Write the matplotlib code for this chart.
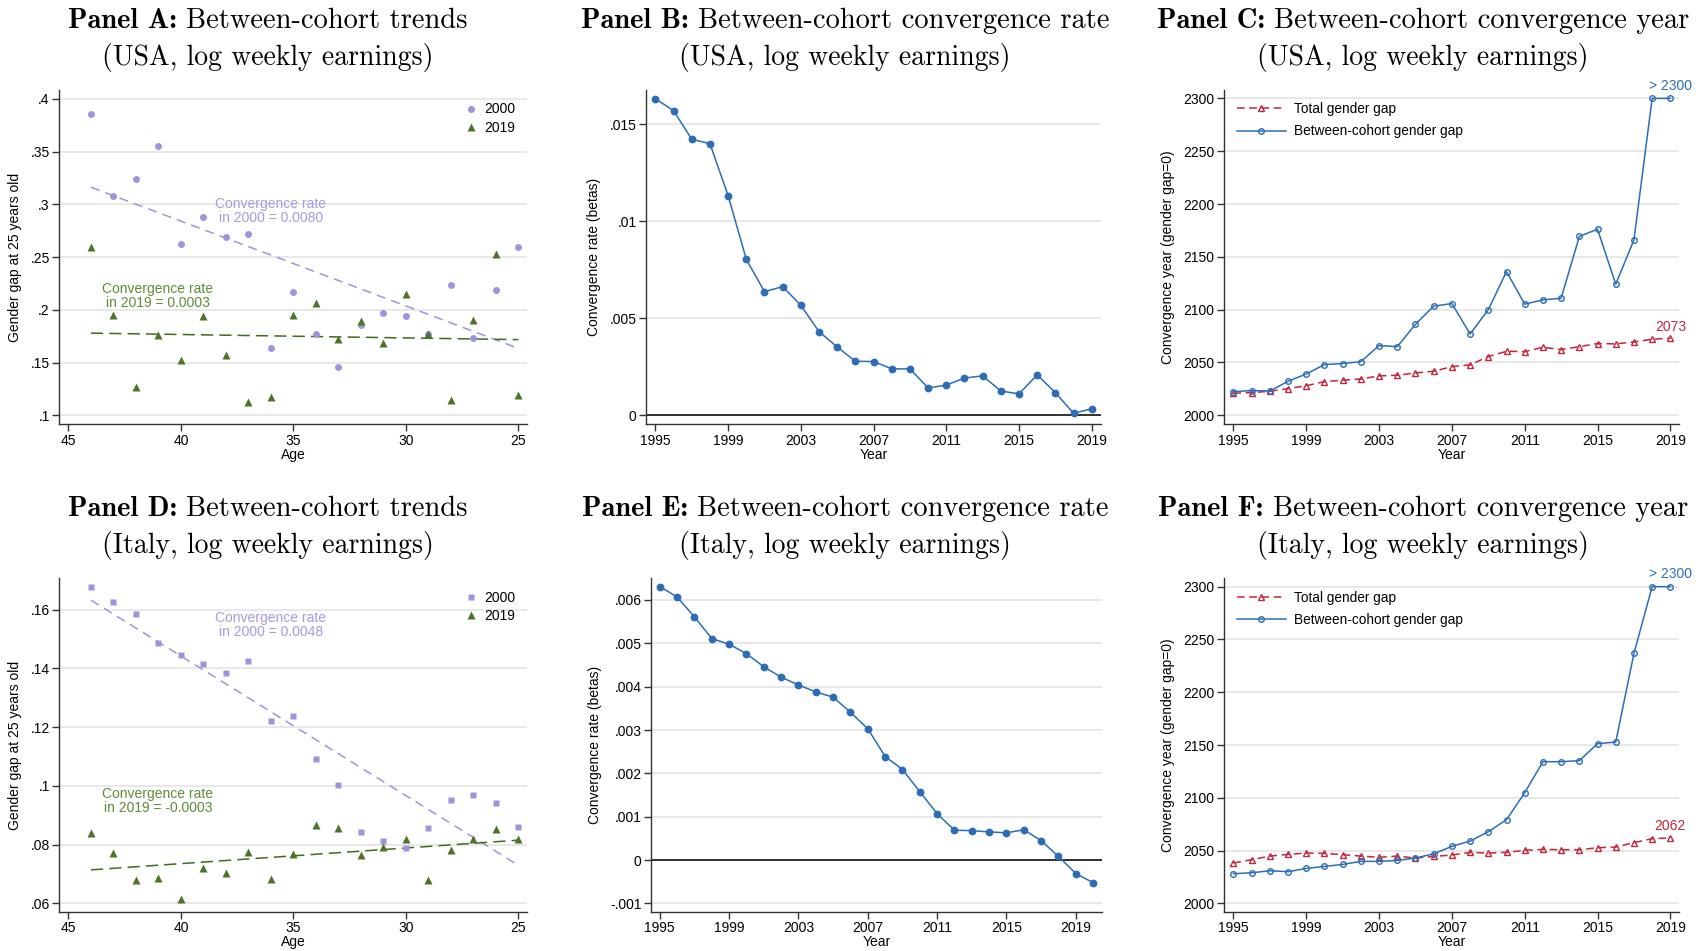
import numpy as np
import matplotlib.pyplot as plt
from matplotlib.ticker import FuncFormatter

plt.rcParams['font.family'] = ['Liberation Sans', 'DejaVu Sans']

# Panel A / D: gender gap at 25 by age (cohorts)
ages = list(range(44, 24, -1))
usa_gap_2000 = [0.3858, 0.308, 0.324, 0.355, 0.2625, 0.2878, 0.2688, 0.272, 0.1639, 0.2173,
                0.1775, 0.1456, 0.186, 0.1974, 0.1939, 0.177, 0.2236, 0.1737, 0.2186, 0.2594]
usa_gap_2019 = [0.260, 0.1955, 0.1272, 0.1762, 0.1528, 0.1942, 0.157, 0.1127, 0.1178, 0.195,
                0.2066, 0.1721, 0.1898, 0.169, 0.2154, 0.1775, 0.1149, 0.19, 0.2533, 0.1197]
ita_gap_2000 = [0.1677, 0.1626, 0.1585, 0.1488, 0.1446, 0.1415, 0.1384, 0.1425, 0.1221, 0.1238,
                0.1091, 0.1003, 0.0843, 0.0812, 0.0788, 0.0857, 0.0952, 0.0969, 0.0942, 0.0861]
ita_gap_2019 = [0.0841, 0.0771, 0.0681, 0.0686, 0.0616, 0.0721, 0.0703, 0.0774, 0.0684, 0.0769,
                0.0866, 0.0858, 0.0766, 0.0792, 0.0818, 0.0681, 0.0782, 0.082, 0.0853, 0.0818]

# Panel B / E: convergence rate (betas)
years_usa = list(range(1995, 2020))
usa_rate = [0.01632, 0.01570, 0.01423, 0.01400, 0.01132, 0.00804, 0.00637, 0.00663, 0.00567,
            0.00431, 0.00352, 0.00278, 0.00277, 0.00239, 0.00239, 0.00141, 0.00155, 0.00192,
            0.00203, 0.00125, 0.00110, 0.00208, 0.00117, 0.00010, 0.00033]
years_ita = list(range(1995, 2021))
ita_rate = [0.00631, 0.00607, 0.00561, 0.00511, 0.00498, 0.00476, 0.00446, 0.00422, 0.00404,
            0.00388, 0.00376, 0.00341, 0.00303, 0.00239, 0.00209, 0.00158, 0.00107, 0.00069,
            0.00068, 0.00065, 0.00063, 0.00070, 0.00045, 0.000085, -0.00031, -0.00052]

# Panel C / F: convergence year
years = list(range(1995, 2020))
usa_total_year = [2020.8, 2021.5, 2022.7, 2025.3, 2028.0, 2031.9, 2033.2, 2034.4, 2037.3, 2037.9,
                  2040.1, 2041.7, 2046.1, 2047.7, 2055.6, 2060.6, 2060.3, 2064.4, 2062.2, 2065.0,
                  2067.9, 2067.6, 2069.5, 2072.0, 2073.0]
usa_between_year = [2022.4, 2023.4, 2023.0, 2032.2, 2039.1, 2048.0, 2049.0, 2050.8, 2066.0, 2065.0,
                    2086.2, 2103.3, 2105.8, 2077.0, 2100.0, 2136.1, 2105.2, 2109.3, 2110.8, 2169.3,
                    2176.2, 2124.1, 2166.1, 2300.0, 2300.0]
ita_total_year = [2038.2, 2041.4, 2044.8, 2046.4, 2047.7, 2047.4, 2046.1, 2044.8, 2043.6, 2044.8,
                  2042.9, 2044.5, 2045.8, 2048.3, 2047.7, 2048.3, 2050.2, 2051.2, 2050.8, 2050.8,
                  2052.7, 2053.4, 2057.5, 2061.3, 2062.0]
ita_between_year = [2028.1, 2029.0, 2030.9, 2030.0, 2033.1, 2035.0, 2036.9, 2039.8, 2039.8, 2040.7,
                    2042.9, 2047.0, 2054.0, 2059.0, 2067.9, 2079.3, 2104.8, 2134.2, 2134.2, 2135.2,
                    2151.3, 2152.8, 2236.8, 2300.0, 2300.0]

LAV = '#9d94dd'
LAV_TXT = '#a39be2'
GREEN = '#4b7428'
GREEN_TXT = '#5f8b36'
BLUE = '#2c6db6'
RED = '#c3253b'
AX_COL = '#333333'
TICK_FS = 10
LAB_FS = 10
LEG_FS = 9.8


def stata_fmt(v, pos):
    s = f"{v:g}"
    if s.startswith("0."):
        s = s[1:]
    elif s.startswith("-0."):
        s = "-" + s[2:]
    return s


def style_axes(ax):
    for s in ['top', 'right']:
        ax.spines[s].set_visible(False)
    for s in ['left', 'bottom']:
        ax.spines[s].set_color(AX_COL)
        ax.spines[s].set_linewidth(1.0)
    ax.tick_params(direction='out', length=5, width=1, labelsize=TICK_FS, color=AX_COL, pad=2)
    ax.yaxis.grid(True, color='#e2e2e2', lw=1.1)
    ax.set_axisbelow(True)
    ax.yaxis.set_major_formatter(FuncFormatter(stata_fmt))


# Scatter of gap by age with linear fit for 2000 and 2019
def plot_cohort_panel(ax, gap2000, gap2019, marker2000, ylim, yticks, txt2000, txt2019, pos2000, pos2019):
    ax.plot(ages, gap2000, linestyle='none', marker=marker2000, color=LAV, mec='none',
            ms=5.0 if marker2000 == 'o' else 4.8, label='2000', zorder=3)
    ax.plot(ages, gap2019, linestyle='none', marker='^', color=GREEN, mec='none', ms=6.3,
            label='2019', zorder=3)
    xs = np.array([44, 25])
    b, a = np.polyfit(ages, gap2000, 1)
    ax.plot(xs, a + b * xs, color=LAV, lw=1.1, dashes=(6, 4), zorder=2)
    b, a = np.polyfit(ages, gap2019, 1)
    ax.plot(xs, a + b * xs, color='#3f6a1f', lw=1.1, dashes=(8, 4), zorder=2)
    ax.text(pos2000[0], pos2000[1], txt2000, color=LAV_TXT, fontsize=10, ha='center', va='center', linespacing=1.0)
    ax.text(pos2019[0], pos2019[1], txt2019, color=GREEN_TXT, fontsize=10, ha='center', va='center', linespacing=1.0)
    ax.set_xlim(45.4, 24.6)
    ax.set_ylim(*ylim)
    ax.set_xticks([45, 40, 35, 30, 25])
    ax.set_yticks(yticks)
    ax.set_xlabel('Age', fontsize=LAB_FS, labelpad=0)
    ax.set_ylabel('Gender gap at 25 years old', fontsize=LAB_FS, labelpad=6)
    ax.legend(loc='upper right', bbox_to_anchor=(1.0, 1.0), frameon=False, fontsize=10,
              handlelength=0.8, handletextpad=0.5, labelspacing=0.3, borderaxespad=0.5)
    style_axes(ax)


def plot_rate_panel(ax, yrs, rate, ylim, yticks, xlim):
    ax.plot(yrs, rate, color=BLUE, lw=1.1, marker='o', ms=4.6, mec=BLUE, zorder=3)
    ax.axhline(0, color='#222222', lw=1.3, zorder=2)
    ax.set_xlim(*xlim)
    ax.set_ylim(*ylim)
    ax.set_xticks([1995, 1999, 2003, 2007, 2011, 2015, 2019])
    ax.set_yticks(yticks)
    ax.set_xlabel('Year', fontsize=LAB_FS, labelpad=0)
    ax.set_ylabel('Convergence rate (betas)', fontsize=LAB_FS, labelpad=6)
    style_axes(ax)


def plot_year_panel(ax, total, between, ylim, last_label):
    ax.plot(years, total, color=RED, lw=1.1, dashes=(5, 3), marker='^', ms=4.8, mfc='none',
            mec=RED, mew=1.0, label='Total gender gap', zorder=3)
    ax.plot(years, between, color=BLUE, lw=1.1, marker='o', ms=4.0, mfc='none', mec=BLUE,
            mew=1.0, label='Between-cohort gender gap', zorder=4)
    ax.text(years[-1], between[-1] + 12, '> 2300', color=BLUE, fontsize=10, ha='center',
            va='center', clip_on=False)
    ax.text(years[-1], total[-1] + 11, last_label, color=RED, fontsize=10, ha='center',
            va='center', clip_on=False)
    ax.set_xlim(1994.5, 2019.5)
    ax.set_ylim(*ylim)
    ax.set_xticks([1995, 1999, 2003, 2007, 2011, 2015, 2019])
    ax.set_yticks(range(2000, 2301, 50))
    ax.set_xlabel('Year', fontsize=LAB_FS, labelpad=0)
    ax.set_ylabel('Convergence year (gender gap=0)', fontsize=LAB_FS, labelpad=6)
    ax.legend(loc='upper left', bbox_to_anchor=(0.0, 1.0), frameon=False, fontsize=LEG_FS,
              handlelength=3.6, handletextpad=0.6, labelspacing=0.6, borderaxespad=0.5)
    style_axes(ax)


fig = plt.figure(figsize=(17.04, 9.51), dpi=100)

axA = fig.add_axes([0.0349, 0.5542, 0.2746, 0.3512])
axB = fig.add_axes([0.3793, 0.5542, 0.2667, 0.3512])
axC = fig.add_axes([0.7185, 0.5542, 0.2671, 0.3512])
axD = fig.add_axes([0.0349, 0.0413, 0.2746, 0.3506])
axE = fig.add_axes([0.3821, 0.0413, 0.2645, 0.3506])
axF = fig.add_axes([0.7185, 0.0413, 0.2671, 0.3506])

plot_cohort_panel(axA, usa_gap_2000, usa_gap_2019, 'o', (0.0918, 0.4085),
                  [0.1, 0.15, 0.2, 0.25, 0.3, 0.35, 0.4],
                  'Convergence rate\nin 2000 = 0.0080', 'Convergence rate\nin 2019 = 0.0003',
                  (36, 0.2938), (41.03, 0.2129))
plot_cohort_panel(axD, ita_gap_2000, ita_gap_2019, 's', (0.0572, 0.1707),
                  [0.06, 0.08, 0.1, 0.12, 0.14, 0.16],
                  'Convergence rate\nin 2000 = 0.0048', 'Convergence rate\nin 2019 = -0.0003',
                  (36, 0.1547), (41.03, 0.0948))

plot_rate_panel(axB, years_usa, usa_rate, (-0.00045, 0.01677), [0, 0.005, 0.01, 0.015], (1994.5, 2019.5))
plot_rate_panel(axE, years_ita, ita_rate, (-0.00119, 0.0065),
                [-0.001, 0, 0.001, 0.002, 0.003, 0.004, 0.005, 0.006], (1994.5, 2020.5))

plot_year_panel(axC, usa_total_year, usa_between_year, (1991.8, 2308), '2073')
plot_year_panel(axF, ita_total_year, ita_between_year, (1992.1, 2307.9), '2062')

# Titles (serif, bold "Panel X:" then regular text), centred over each panel
W, H = 1704, 951
titles = [
    (268, 28, 65, 'A', 'Between-cohort trends', '(USA, log weekly earnings)'),
    (845, 28, 65, 'B', 'Between-cohort convergence rate', '(USA, log weekly earnings)'),
    (1423, 28, 65, 'C', 'Between-cohort convergence year', '(USA, log weekly earnings)'),
    (268, 516, 553, 'D', 'Between-cohort trends', '(Italy, log weekly earnings)'),
    (845, 516, 553, 'E', 'Between-cohort convergence rate', '(Italy, log weekly earnings)'),
    (1423, 516, 553, 'F', 'Between-cohort convergence year', '(Italy, log weekly earnings)'),
]
renderer = fig.canvas.get_renderer()
for x, y1, y2, letter, line1, line2 in titles:
    t_bold = fig.text(0, 1 - y1 / H, 'Panel ' + letter + ':', fontfamily='cmb10',
                      fontsize=20.5, ha='left', va='baseline')
    t_reg = fig.text(0, 1 - y1 / H, line1, fontfamily='cmr10',
                     fontsize=20.5, ha='left', va='baseline')
    w1 = t_bold.get_window_extent(renderer).width
    w2 = t_reg.get_window_extent(renderer).width
    gap = 9
    left = x - (w1 + gap + w2) / 2
    t_bold.set_x(left / W)
    t_reg.set_x((left + w1 + gap) / W)
    fig.text(x / W, 1 - y2 / H, line2, fontfamily='cmr10', fontsize=20,
             ha='center', va='baseline')

fig.savefig('out.png', dpi=100)
